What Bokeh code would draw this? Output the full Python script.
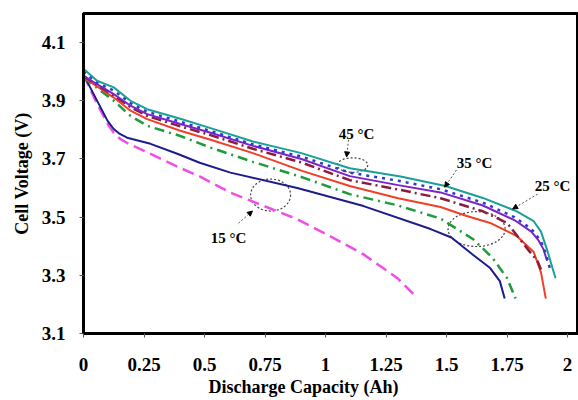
from bokeh.plotting import figure
from bokeh.models import Range1d, FixedTicker, Arrow, NormalHead, Label, Title
from bokeh.embed import file_html
from bokeh.resources import INLINE

# ---- data ----
x_ticks = [0, 0.25, 0.5, 0.75, 1, 1.25, 1.5, 1.75, 2]
x_tick_labels = ["0", "0.25", "0.5", "0.75", "1", "1.25", "1.5", "1.75", "2"]
y_ticks = [3.1, 3.3, 3.5, 3.7, 3.9, 4.1]

x_teal = [0, 0.056, 0.125, 0.194, 0.263, 0.4, 0.525, 0.7, 0.9, 1.1, 1.31, 1.495, 1.65, 1.79, 1.86, 1.89, 1.917, 1.95]
y_teal = [4.01, 3.969, 3.946, 3.90, 3.871, 3.838, 3.806, 3.76, 3.72, 3.668, 3.64, 3.607, 3.566, 3.52, 3.486, 3.45, 3.383, 3.29]

x_blue = [0, 0.056, 0.125, 0.194, 0.263, 0.4, 0.525, 0.7, 0.9, 1.1, 1.3, 1.475, 1.65, 1.78, 1.85, 1.89, 1.91, 1.93]
y_blue = [4.00, 3.962, 3.935, 3.892, 3.862, 3.828, 3.796, 3.75, 3.708, 3.653, 3.625, 3.596, 3.55, 3.50, 3.46, 3.417, 3.375, 3.314]

x_purple = [0, 0.125, 0.194, 0.263, 0.4, 0.525, 0.7, 0.9, 1.1, 1.3, 1.475, 1.65, 1.78, 1.85, 1.88, 1.90, 1.915]
y_purple = [3.985, 3.923, 3.883, 3.854, 3.82, 3.79, 3.745, 3.70, 3.641, 3.61, 3.585, 3.54, 3.49, 3.45, 3.42, 3.39, 3.35]

x_maroon = [0, 0.125, 0.194, 0.263, 0.4, 0.525, 0.7, 0.9, 1.1, 1.3, 1.475, 1.65, 1.75, 1.835, 1.875, 1.89]
y_maroon = [3.985, 3.918, 3.878, 3.848, 3.812, 3.782, 3.735, 3.688, 3.627, 3.595, 3.565, 3.52, 3.48, 3.39, 3.35, 3.32]

x_red = [0, 0.125, 0.194, 0.263, 0.4, 0.525, 0.7, 0.9, 1.1, 1.3, 1.475, 1.58, 1.68, 1.79, 1.86, 1.89, 1.91]
y_red = [3.98, 3.911, 3.866, 3.837, 3.797, 3.766, 3.72, 3.66, 3.607, 3.565, 3.535, 3.505, 3.48, 3.435, 3.38, 3.31, 3.22]

x_green = [0, 0.125, 0.194, 0.263, 0.4, 0.525, 0.7, 0.9, 1.1, 1.3, 1.475, 1.61, 1.69, 1.75, 1.785]
y_green = [3.98, 3.90, 3.848, 3.814, 3.779, 3.739, 3.69, 3.638, 3.579, 3.54, 3.495, 3.424, 3.36, 3.29, 3.22]

x_navy = [0, 0.05, 0.1, 0.125, 0.15, 0.18, 0.277, 0.39, 0.48, 0.607, 0.883, 1.157, 1.434, 1.52, 1.61, 1.68, 1.72, 1.74]
y_navy = [3.99, 3.91, 3.83, 3.803, 3.786, 3.773, 3.752, 3.717, 3.687, 3.653, 3.60, 3.538, 3.459, 3.43, 3.37, 3.325, 3.28, 3.22]

x_magenta = [0, 0.05, 0.1, 0.125, 0.15, 0.18, 0.235, 0.32, 0.4, 0.48, 0.607, 0.883, 1.02, 1.157, 1.297, 1.372]
y_magenta = [3.99, 3.90, 3.82, 3.79, 3.77, 3.755, 3.734, 3.70, 3.669, 3.64, 3.584, 3.493, 3.434, 3.372, 3.29, 3.228]

temp_labels = ["45 °C", "35 °C", "25 °C", "15 °C"]
x_title = "Discharge Capacity (Ah)"
y_title = "Cell Voltage (V)"

# ---- figure ----
SERIF = "Liberation Serif"
p = figure(width=578, height=400, output_backend="svg", toolbar_location=None,
           x_range=Range1d(0, 2.045), y_range=Range1d(3.1, 4.2),
           min_border_left=83, min_border_right=0, min_border_top=13, min_border_bottom=67)
p.background_fill_color = "white"
p.border_fill_color = "white"
p.outline_line_color = "black"
p.outline_line_width = 3
p.xgrid.visible = False
p.ygrid.visible = False

for ax in (p.xaxis[0], p.yaxis[0]):
    ax.axis_line_width = 3
    ax.axis_line_color = "black"
    ax.major_tick_line_color = "#555"
    ax.major_tick_line_width = 1
    ax.major_tick_in = 0
    ax.major_tick_out = 4
    ax.minor_tick_line_color = None
    ax.major_label_text_font = SERIF
    ax.major_label_text_font_style = "bold"
    ax.major_label_text_font_size = "19px"
    ax.major_label_text_color = "black"
    ax.axis_label_text_font = SERIF
    ax.axis_label_text_font_style = "bold"
    ax.axis_label_text_font_size = "18px"
    ax.axis_label_text_color = "black"

p.xaxis.ticker = FixedTicker(ticks=x_ticks)
p.xaxis.major_label_overrides = {t: l for t, l in zip(x_ticks, x_tick_labels)}
p.xaxis.major_label_standoff = 20

p.yaxis.ticker = FixedTicker(ticks=y_ticks)
p.yaxis.major_label_standoff = 14
p.yaxis.axis_label = y_title
p.yaxis.axis_label_standoff = 7

# x-axis title: a title panel below the axis, shifted left like in the reference
p.add_layout(Title(text=x_title, align="left", offset=125, standoff=3,
                   text_font=SERIF, text_font_style="bold", text_font_size="18px",
                   text_color="black"), "below")

# ---- dotted ellipses (annotation marks) ----
ell_style = dict(fill_color=None, line_color="#444444", line_width=1.2, line_dash="2 2")
p.ellipse(x=[1.112], y=[3.679], width=[0.125], height=[0.05], **ell_style)
p.ellipse(x=[1.624], y=[3.459], width=[0.236], height=[0.12], **ell_style)
p.ellipse(x=[0.773], y=[3.576], width=[0.165], height=[0.11], **ell_style)

# ---- curves ----
p.line(x_magenta, y_magenta, line_color="#f04ee6", line_width=2.5, line_dash="12 6")
p.line(x_navy, y_navy, line_color="#1c1c8c", line_width=2)
p.line(x_green, y_green, line_color="#1e9b3a", line_width=2.5, line_dash="10 5 2 5")
p.line(x_red, y_red, line_color="#f0402a", line_width=2)
p.line(x_maroon, y_maroon, line_color="#8b1c3c", line_width=2.5, line_dash="10 4 2 4")
p.line(x_purple, y_purple, line_color="#7e22c8", line_width=2)
p.line(x_blue, y_blue, line_color="#2a3bd0", line_width=2.5, line_dash="3 5")
p.line(x_teal, y_teal, line_color="#1a9f9a", line_width=2)

# ---- labels and arrows ----
label_pos = [(1.128, 3.786), (1.616, 3.686), (1.938, 3.607), (0.599, 3.428)]
arrow_pos = [((1.095, 3.766), (1.087, 3.707)),
             ((1.541, 3.662), (1.492, 3.603)),
             ((1.876, 3.579), (1.773, 3.528)),
             ((0.64, 3.479), (0.698, 3.521))]
for txt, (lx, ly) in zip(temp_labels, label_pos):
    p.add_layout(Label(x=lx, y=ly, text=txt, text_align="center", text_baseline="middle",
                       text_font=SERIF, text_font_style="bold", text_font_size="15px",
                       text_color="black"))
for (s, e) in arrow_pos:
    p.add_layout(Arrow(end=NormalHead(size=5, fill_color="black", line_color="black"),
                       x_start=s[0], y_start=s[1], x_end=e[0], y_end=e[1],
                       line_color="#555555", line_width=1, line_dash="2 2"))

open("out.html", "w").write(file_html(p, INLINE))
